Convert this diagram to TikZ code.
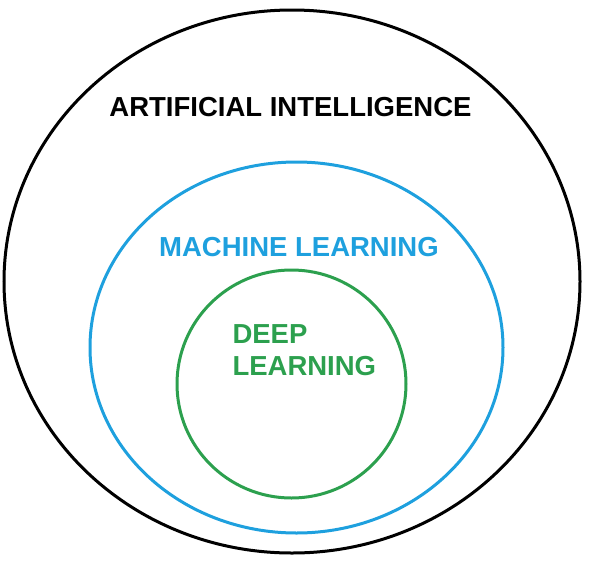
\documentclass[tikz,border=0pt]{standalone}
\usepackage{fontspec}
\setmainfont{Liberation Sans}
\usepackage{tikz}
\usepackage{xcolor}
\definecolor{mlblue}{RGB}{30,160,222}
\definecolor{dlgreen}{RGB}{44,160,78}

\begin{document}
\begin{tikzpicture}[x=1pt, y=-1pt, line width=3pt,
		tag/.style={inner sep=0pt, font=\fontsize{27.5}{32}\selectfont\bfseries}]
		\useasboundingbox (0,0) rectangle (600,563);
		% nested sets
		\draw[black] (292,281.5) ellipse [x radius=288, y radius=271.5];
		\draw[mlblue] (296.5,347.5) ellipse [x radius=206.5, y radius=185.5];
		\draw[dlgreen] (291.5,384) ellipse [x radius=114.5, y radius=114];
		% labels
		\node[tag, black] (ai) at (290.5,107.5) {ARTIFICIAL INTELLIGENCE};
		\node[tag, mlblue] (ml) at (299,247) {MACHINE LEARNING};
		\node[tag, dlgreen, align=left, anchor=north west] (dl) at (231,323) {DEEP\\LEARNING};
	\end{tikzpicture}
\end{document}
